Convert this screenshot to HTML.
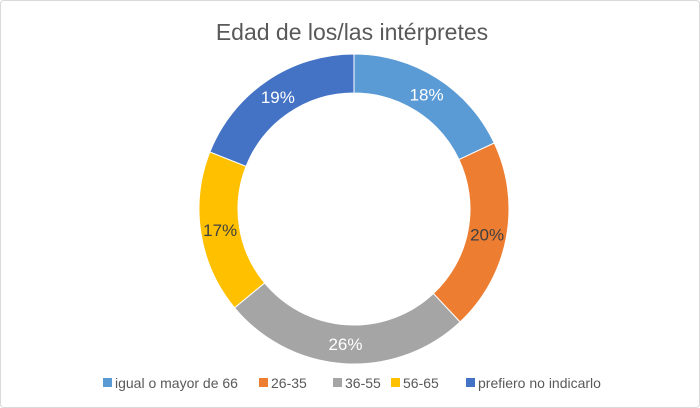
<!DOCTYPE html>
<html><head><meta charset="utf-8"><style>
body{margin:0;background:#fff;}
#wrap{position:relative;width:698px;height:406px;border:1px solid #d9d9d9;border-radius:4px;background:#fff;overflow:hidden;font-family:"Liberation Sans",sans-serif;}
</style></head><body>
<div id="wrap">
<svg id="chart" width="698" height="406">
<text x="351" y="39" text-anchor="middle" font-size="23" fill="#595959">Edad de los/las intérpretes</text>
<g id="slices"></g>
<g id="legend"></g>
</svg>
</div>
<script>
const categories=["igual o mayor de 66","26-35","36-55","56-65","prefiero no indicarlo"];
const values=[18,20,26,17,19];
const colors=["#5b9bd5","#ed7d31","#a5a5a5","#ffc000","#4472c4"];
const labelColors=["#fff","#404040","#fff","#404040","#fff"];
const legendX=[102,258,332,390,465];
const NS="http://www.w3.org/2000/svg";
const cx=353,cy=208,R=155,r=116;
const total=values.reduce((a,b)=>a+b,0);
const g=document.getElementById('slices');
let a0=-Math.PI/2;
function pt(rad,a){return [cx+rad*Math.cos(a),cy+rad*Math.sin(a)];}
values.forEach((v,i)=>{
  const a1=a0+v/total*2*Math.PI;
  const large=(a1-a0)>Math.PI?1:0;
  const p1=pt(R,a0),p2=pt(R,a1),p3=pt(r,a1),p4=pt(r,a0);
  const p=document.createElementNS(NS,'path');
  p.setAttribute('d',`M${p1[0]},${p1[1]}A${R},${R} 0 ${large} 1 ${p2[0]},${p2[1]}L${p3[0]},${p3[1]}A${r},${r} 0 ${large} 0 ${p4[0]},${p4[1]}Z`);
  p.setAttribute('fill',colors[i]);
  p.setAttribute('stroke','#fff');
  p.setAttribute('stroke-width','1');
  
  
  g.appendChild(p);
  const am=(a0+a1)/2, lp=pt((R+r)/2,am);
  const t=document.createElementNS(NS,'text');
  t.setAttribute('x',lp[0]);t.setAttribute('y',lp[1]+6);
  t.setAttribute('text-anchor','middle');t.setAttribute('font-size','17');
  t.setAttribute('fill',labelColors[i]);
  t.textContent=Math.round(v/total*100)+'%';
  
  
  g.appendChild(t);
  a0=a1;
});
const lg=document.getElementById('legend');
categories.forEach((c,i)=>{
  const s=document.createElementNS(NS,'rect');
  s.setAttribute('x',legendX[i]);s.setAttribute('y',377);s.setAttribute('width',9);s.setAttribute('height',9);
  s.setAttribute('fill',colors[i]);
  
  
  lg.appendChild(s);
  const t=document.createElementNS(NS,'text');
  t.setAttribute('x',legendX[i]+12);t.setAttribute('y',387);
  t.setAttribute('font-size','14');t.setAttribute('fill','#595959');
  t.textContent=c;
  
  
  lg.appendChild(t);
});
</script>
</body></html>
